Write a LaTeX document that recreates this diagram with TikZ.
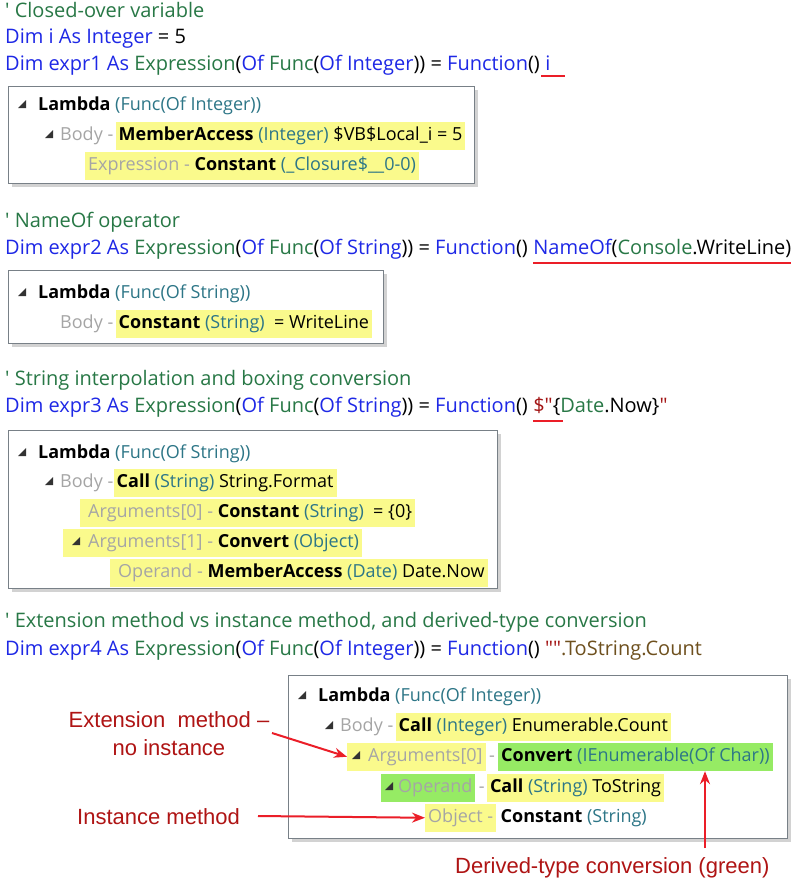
\documentclass[tikz,border=0pt]{standalone}
\usepackage{fontspec}
\usetikzlibrary{arrows.meta,shadows}
\newfontfamily\codefont{Open Sans}
\newfontfamily\treefont{Open Sans}
\newfontfamily\annfont{Liberation Sans}
\definecolor{kwblue}{RGB}{30,40,230}
\definecolor{tygreen}{RGB}{40,120,70}
\definecolor{strred}{RGB}{163,21,21}
\definecolor{mthbrown}{RGB}{110,80,30}
\definecolor{trtype}{RGB}{45,118,135}
\definecolor{trgray}{RGB}{165,165,165}
\definecolor{hly}{RGB}{250,250,140}
\definecolor{hlg}{RGB}{150,235,100}
\definecolor{anntext}{RGB}{175,20,20}
\definecolor{annarrow}{RGB}{235,30,40}
\definecolor{boxline}{RGB}{120,128,135}
\newcommand{\kw}[1]{\textcolor{kwblue}{#1}}
\newcommand{\ty}[1]{\textcolor{tygreen}{#1}}
\newcommand{\st}[1]{\textcolor{strred}{#1}}
\newcommand{\trt}[1]{\textcolor{trtype}{#1}}
\newcommand{\gr}[1]{\textcolor{trgray}{#1}}
\begin{document}
\begin{tikzpicture}[x=1pt,y=-1pt,
  code/.style={anchor=base west,inner sep=0pt,font=\codefont\fontsize{20}{24}\selectfont},
  tree/.style={anchor=base west,inner sep=0pt,font=\treefont\fontsize{18}{22}\selectfont},
  hl/.style={tree,fill=hly,inner xsep=3pt,text height=14.5pt,text depth=6pt,inner ysep=4pt},
  hlgreen/.style={hl,fill=hlg},
  treebox/.style={draw=boxline,line width=1.2pt,fill=white,anchor=north west,
    drop shadow={opacity=0.35,shadow xshift=3pt,shadow yshift=-3pt}},
  uline/.style={draw=annarrow,line width=1.8pt},
  ann/.style={inner sep=0pt,font=\annfont\fontsize{22}{28}\selectfont,text=anntext,align=center},
  annarr/.style={draw=annarrow,line width=2pt,-{Stealth[length=13pt,width=10pt]}},
  tri/.style={fill=black!80}
]
\useasboundingbox[fill=white] (0,0) rectangle (800,879);

% ---------- Section 1 ----------
\node[code] (c1a) at (5,17) {\ty{' Closed-over variable}};
\node[code] (c1b) at (5,43) {\kw{Dim i As Integer} = 5};
\node[code] (c1c) at (5,70) {\kw{Dim expr1 As }\ty{Expression}(\kw{Of }\ty{Func}(\kw{Of Integer})) = \kw{Function}()};
\node[code,xshift=5pt] (c1u) at (c1c.base east) {\kw{i}};
\draw[uline] ([xshift=-4pt,yshift=-6pt]c1u.south west) -- ([xshift=14pt,yshift=-6pt]c1u.south east);

\node[treebox,minimum width=466pt,minimum height=97pt] (box1) at (8,86) {};
\fill[tri] (18,108) -- (26,108) -- (26,100) -- cycle;
\node[tree] (b1r1) at (38,110) {\textbf{Lambda} \trt{(Func(Of Integer))}};
\fill[tri] (45,138) -- (53,138) -- (53,130) -- cycle;
\node[tree] (b1r2a) at (60,140) {\gr{Body -}};
\node[hl,xshift=2pt] (b1r2b) at (b1r2a.base east) {\textbf{MemberAccess} \trt{(Integer)} \$VB\$Local\_i = 5};
\node[hl] (b1r3) at (85,170) {\gr{Expression -} \textbf{Constant} \trt{(\_Closure\$\_\_0-0)}};

% ---------- Section 2 ----------
\node[code] (c2a) at (5,227) {\ty{' NameOf operator}};
\node[code] (c2b) at (5,254) {\kw{Dim expr2 As }\ty{Expression}(\kw{Of }\ty{Func}(\kw{Of String})) = \kw{Function}()};
\node[code,xshift=5pt] (c2u) at (c2b.base east) {\kw{NameOf}(\ty{Console}.WriteLine)};
\draw[uline] ([yshift=-6pt]c2u.south west) -- ([yshift=-6pt]c2u.south east);

\node[treebox,minimum width=375pt,minimum height=73pt] (box2) at (8,270) {};
\fill[tri] (18,296) -- (26,296) -- (26,288) -- cycle;
\node[tree] (b2r1) at (38,298) {\textbf{Lambda} \trt{(Func(Of String))}};
\node[tree] (b2r2a) at (60,328) {\gr{Body -}};
\node[hl,xshift=2pt] (b2r2b) at (b2r2a.base east) {\textbf{Constant} \trt{(String)}\ \ = WriteLine};

% ---------- Section 3 ----------
\node[code] (c3a) at (5,385) {\ty{' String interpolation and boxing conversion}};
\node[code] (c3b) at (5,412) {\kw{Dim expr3 As }\ty{Expression}(\kw{Of }\ty{Func}(\kw{Of String})) = \kw{Function}()};
\node[code,xshift=5pt] (c3u) at (c3b.base east) {\st{\$"}\{\ty{Date}.Now\}\st{"}};
\draw[uline] ([yshift=-6pt]c3u.south west) -- ([xshift=30pt,yshift=-6pt]c3u.south west);

\node[treebox,minimum width=489pt,minimum height=158pt] (box3) at (8,430) {};
\fill[tri] (18,456) -- (26,456) -- (26,448) -- cycle;
\node[tree] (b3r1) at (38,458) {\textbf{Lambda} \trt{(Func(Of String))}};
\fill[tri] (45,485) -- (53,485) -- (53,477) -- cycle;
\node[tree] (b3r2a) at (60,487) {\gr{Body -}};
\node[hl,xshift=0pt] (b3r2b) at (b3r2a.base east) {\textbf{Call} \trt{(String)} String.Format};
\node[hl] (b3r3) at (80,517) {\hspace*{5pt}\gr{Arguments[0] -} \textbf{Constant} \trt{(String)}\ \ = \{0\}};
\node[hl] (b3r4) at (63,547) {\hspace*{22pt}\gr{Arguments[1] -} \textbf{Convert} \trt{(Object)}};
\fill[tri] (72,545) -- (80,545) -- (80,537) -- cycle;
\node[hl] (b3r5) at (110,577) {\hspace*{5pt}\gr{Operand -} \textbf{MemberAccess} \trt{(Date)} Date.Now};

% ---------- Section 4 ----------
\node[code] (c4a) at (5,627) {\ty{' Extension method vs instance method, and derived-type conversion}};
\node[code] (c4b) at (5,655) {\kw{Dim expr4 As }\ty{Expression}(\kw{Of }\ty{Func}(\kw{Of Integer})) = \kw{Function}() \st{""}\textcolor{mthbrown}{.ToString.Count}};

\node[treebox,minimum width=499pt,minimum height=163pt] (box4) at (288,675) {};
\fill[tri] (298,699) -- (306,699) -- (306,691) -- cycle;
\node[tree] (b4r1) at (318,701) {\textbf{Lambda} \trt{(Func(Of Integer))}};
\fill[tri] (325,729) -- (333,729) -- (333,721) -- cycle;
\node[tree] (b4r2a) at (340,731) {\gr{Body -}};
\node[hl,xshift=2pt] (b4r2b) at (b4r2a.base east) {\textbf{Call} \trt{(Integer)} Enumerable.Count};
\node[hl] (b4r3a) at (347,761) {\hspace*{18pt}\gr{Arguments[0]}};
\fill[tri] (352,759) -- (360,759) -- (360,751) -- cycle;
\node[tree,xshift=3pt] (b4r3b) at (b4r3a.base east) {\gr{-}};
\node[hlgreen,xshift=3pt] (b4r3c) at (b4r3b.base east) {\textbf{Convert} \trt{(IEnumerable(Of Char))}};
\node[hlgreen] (b4r4a) at (381,792) {\hspace*{14pt}\gr{Operand}};
\fill[tri] (385,790) -- (393,790) -- (393,782) -- cycle;
\node[tree,xshift=3pt] (b4r4b) at (b4r4a.base east) {\gr{-}};
\node[hl,xshift=2pt] (b4r4c) at (b4r4b.base east) {\textbf{Call} \trt{(String)} ToString};
\node[hl] (b4r5a) at (425,822) {\gr{Object -}};
\node[tree,xshift=4pt] (b4r5b) at (b4r5a.base east) {\textbf{Constant} \trt{(String)}};

% annotations
\node[ann] (ann1) at (169,734) {Extension\ \ method –\\no instance};
\node[ann,anchor=base west] (ann2) at (77,824) {Instance method};
\node[ann,anchor=base west] (ann3) at (455,873) {Derived-type conversion (green)};
\coordinate (a1s) at (272,733);
\coordinate (a2s) at (258,816);
\coordinate (a3s) at (705,848);
\draw[annarr] (a1s) -- (b4r3a.west);
\draw[annarr] (a2s) -- (b4r5a.west);
\draw[annarr] (a3s) -- (a3s |- b4r3c.south);
\end{tikzpicture}
\end{document}
